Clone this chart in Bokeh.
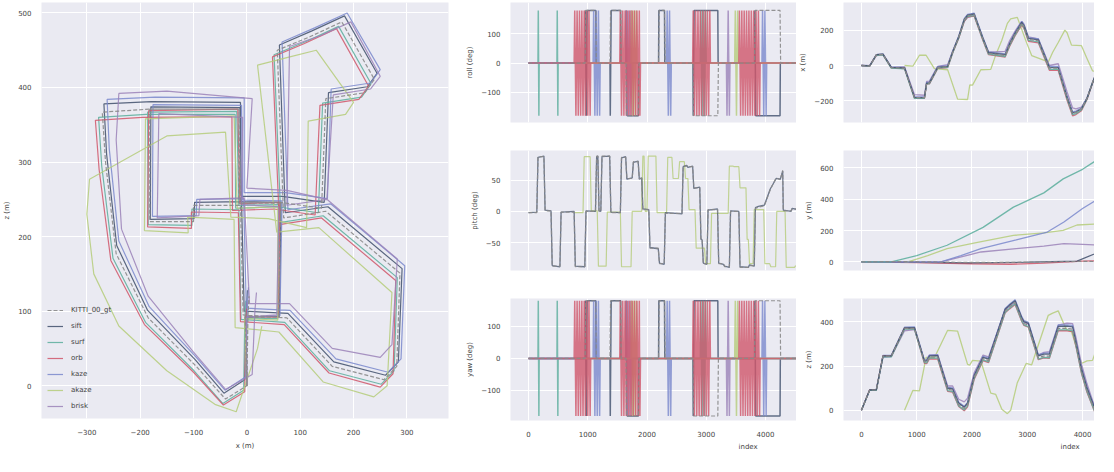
from bokeh.plotting import figure
from bokeh.layouts import row, column
from bokeh.models import FixedTicker, Range1d, Legend, LegendItem, Title
from bokeh.embed import file_html
from bokeh.resources import INLINE

# ---------------- data ----------------
names = ["KITTI_00_gt", "sift", "surf", "orb", "kaze", "akaze", "brisk"]
colors = ["#8a8a8a", "#3F4F6B", "#5BAE9C", "#D0566A", "#7A88CC", "#B5CC7A", "#9B82B8"]

gt_idx = [0, 150, 270, 390, 540, 780, 960, 1140, 1180, 1230, 1380, 1560, 1650, 1760, 1860, 1920, 2040, 2200, 2300, 2600,
          2680, 2780, 2900, 2940, 3020, 3200, 3300, 3400, 3560, 3720, 3820, 3880, 3980, 4080, 4180, 4250, 4290, 4440, 4540]
akaze_idx = [780, 930, 1050, 1170, 1320, 1560, 1740, 1920, 1960, 2010, 2160, 2340, 2430, 2540, 2640, 2700, 2820, 2980, 3080, 3380,
             3460, 3560, 3680, 3720, 3800, 3980, 4080, 4180, 4340, 4500, 4600, 4660, 4760, 4860, 4960, 5030, 5070, 5220, 5320]

gt_x = [0, -3, 60, 63, -12, -15, -182, -182, -100, -100, -12, -7, 75, 160, 257, 281, 287, 148, 69, 57,
        118, 178, 239, 221, 148, 140, 63, -15, -15, -182, -271, -265, -245, -185, -95, -40, 0, 2, 4]
gt_z = [0, 92, 92, 245, 245, 371, 371, 220, 220, 242, 242, 95, 91, 26, 8, 26, 151, 234, 225, 450,
        468, 488, 411, 393, 385, 238, 246, 245, 371, 371, 367, 300, 177, 91, 26, -18, 0, 92, 120]
sift_x = [0, -2, 61, 64, -10, -13, -180, -181, -99, -98, -10, -5, 77, 163, 260, 284, 291, 152, 72, 61,
          122, 183, 244, 226, 153, 145, 67, -11, -12, -179, -268, -263, -244, -186, -97, -43, -4, -1, 1]
sift_z = [0, 92, 93, 246, 247, 373, 374, 223, 224, 246, 247, 100, 97, 32, 14, 32, 157, 240, 232, 457,
          476, 496, 419, 401, 393, 246, 254, 254, 380, 381, 378, 311, 188, 101, 35, -10, 8, 100, 128]
surf_x = [0, -4, 58, 60, -15, -19, -186, -185, -103, -103, -15, -11, 71, 155, 252, 276, 282, 143, 64, 51,
          112, 172, 233, 215, 142, 134, 57, -21, -22, -189, -278, -272, -251, -190, -99, -45, -6, -4, -2]
surf_z = [0, 91, 90, 243, 242, 368, 367, 216, 215, 237, 236, 89, 85, 20, 2, 20, 145, 228, 219, 444,
          462, 482, 405, 387, 379, 232, 240, 238, 364, 364, 360, 294, 171, 85, 20, -24, -6, 86, 114]
orb_x = [0, -3, 59, 62, -13, -17, -184, -186, -104, -104, -16, -12, 70, 154, 250, 274, 279, 140, 61, 48,
         108, 168, 228, 210, 137, 128, 51, -27, -28, -196, -284, -277, -255, -192, -100, -44, -4, -2, 0]
orb_z = [0, 93, 92, 246, 244, 371, 369, 213, 211, 233, 232, 86, 82, 17, -2, 16, 141, 225, 216, 441,
         459, 479, 402, 384, 376, 229, 237, 235, 361, 360, 356, 290, 168, 82, 18, -26, -8, 84, 112]
kaze_x = [0, -1, 62, 66, -8, -10, -176, -177, -95, -94, -6, -1, 81, 167, 265, 289, 296, 157, 77, 66,
          127, 188, 250, 232, 158, 151, 73, -5, -5, -172, -262, -258, -240, -183, -96, -41, -2, 1, 3]
kaze_z = [0, 92, 94, 248, 249, 376, 377, 227, 228, 250, 251, 104, 101, 36, 18, 36, 161, 244, 236, 461,
          480, 500, 424, 406, 398, 251, 259, 259, 386, 387, 384, 318, 194, 106, 39, -6, 12, 104, 132]
akaze_x = [0, -4, 58, 58, -18, -24, -190, -192, -110, -111, -24, -22, 60, 143, 238, 263, 272, 135, 56, 20,
           75, 130, 200, 185, 115, 112, 40, -30, -40, -150, -295, -300, -287, -240, -150, -60, -20, 20, 28]
akaze_z = [0, 90, 88, 240, 238, 362, 358, 208, 205, 226, 223, 78, 72, 5, -15, 0, 125, 212, 206, 430,
           440, 450, 380, 364, 355, 212, 224, 226, 340, 335, 277, 230, 150, 80, 20, -25, -35, 50, 80]
brisk_x = [0, -1, 56, 60, -10, -8, -165, -168, -90, -88, -5, 5, 80, 160, 250, 272, 282, 150, 75, 80,
           140, 195, 250, 232, 162, 150, 75, 0, 10, -150, -240, -245, -235, -185, -100, -40, 10, 15, 18]
brisk_z = [0, 92, 95, 240, 243, 360, 365, 225, 228, 250, 252, 110, 110, 50, 38, 55, 170, 250, 242, 455,
           470, 488, 415, 398, 390, 250, 262, 265, 385, 395, 392, 330, 210, 120, 45, -5, 15, 100, 125]

# y (m) vs index
gt_y_idx = [0, 800, 1600, 2400, 3200, 4000, 4540]
gt_y = [0, 2, -2, -4, -1, 3, 1]
sift_y_idx = [0, 1000, 2000, 3000, 3900, 4378, 4540]
sift_y = [0, -3, -6, -2, 5, 74, 90]
surf_y_idx = [0, 540, 1000, 1550, 2200, 2750, 3300, 3650, 4000, 4378, 4540]
surf_y = [0, 0, 40, 106, 220, 349, 440, 529, 590, 677, 700]
orb_y_idx = [0, 1000, 2000, 2700, 3300, 4000, 4540]
orb_y = [0, -5, -12, -15, -8, 5, 10]
kaze_y_idx = [0, 1440, 1800, 2162, 2800, 3363, 3663, 4000, 4378, 4540]
kaze_y = [0, 0, 40, 85, 140, 190, 254, 340, 423, 450]
akaze_y_idx = [780, 840, 1200, 1550, 2100, 2750, 3300, 3650, 3900, 4378, 4540]
akaze_y = [0, 0, 40, 85, 125, 169, 185, 201, 235, 243, 248]
brisk_y_idx = [0, 1440, 2162, 2800, 3300, 3663, 4000, 4378, 4540]
brisk_y = [0, 0, 63, 85, 100, 116, 112, 106, 108]

# pitch (deg)
gt_pitch_idx = [0, 140, 160, 260, 280, 380, 400, 530, 550, 770, 790, 950, 970, 1130, 1150, 1170, 1190, 1220, 1240, 1370,
                1390, 1550, 1570, 1640, 1660, 1750, 1770, 1850, 1870, 1910, 1930, 2030, 2050, 2190, 2210, 2290, 2310, 2590, 2610, 2670,
                2690, 2770, 2790, 2890, 2910, 2930, 2950, 3010, 3030, 3190, 3210, 3290, 3310, 3390, 3410, 3550, 3570, 3710, 3730, 3810,
                3830, 3880, 3980, 4080, 4180, 4250, 4290, 4300, 4430, 4450, 4540]
gt_pitch = [-2, -2, 88, 88, 1, 1, -88, -88, -1, -1, -89, -89, 0, 0, 89, 89, 0, 0, 89, 89,
            -2, -2, 87, 87, 53, 53, 80, 80, 53, 53, 3, 3, -59, -59, -84, -84, -3, -3, 73, 73,
            72, 72, 38, 38, -45, -45, -84, -84, 3, 3, -84, -84, -89, -89, 0, 0, -90, -90, -87, -87,
            5, 7, 9, 35, 54, 51, 66, 1, 1, 4, 4]
sift_pitch = [-2, -1, 87, 89, 2, 1, -87, -89, -1, 0, -88, -89, 1, 0, 88, 89, 1, 0, 88, 89,
              -1, -2, 86, 88, 52, 54, 79, 81, 52, 54, 4, 3, -58, -60, -83, -85, -2, -4, 72, 74,
              71, 73, 37, 39, -44, -46, -83, -85, 2, 4, -83, -85, -88, -90, 1, 0, -89, -90, -86, -88,
              6, 8, 10, 36, 53, 52, 65, 2, 0, 5, 3]
akaze_pitch_idx = [780, 920, 940, 1040, 1060, 1160, 1180, 1310, 1330, 1550, 1570, 1730, 1750, 1910, 1930, 1950, 1970, 2000, 2020, 2150,
                   2170, 2330, 2350, 2420, 2440, 2530, 2550, 2630, 2650, 2690, 2710, 2810, 2830, 2970, 2990, 3070, 3090, 3370, 3390, 3450,
                   3470, 3550, 3570, 3670, 3690, 3710, 3730, 3790, 3810, 3970, 3990, 4070, 4090, 4170, 4190, 4330, 4350, 4490, 4510]
akaze_pitch = [-2, -2, 88, 88, 1, 1, -88, -88, -1, -1, -89, -89, 0, 0, 89, 89, 0, 0, 89, 89,
               -2, -2, 87, 87, 53, 53, 80, 80, 53, 53, 3, 3, -59, -59, -84, -84, -3, -3, 73, 73,
               72, 72, 38, 38, -45, -45, -84, -84, 3, 3, -84, -84, -89, -89, 0, 0, -90, -90, -87]

# roll / yaw (deg): 0 or +-180 with wrap-around flips
gt_roll_idx = [0, 955, 965, 1135, 1145, 1375, 1385, 1555, 1565, 1645, 1655, 1855, 1865, 2195, 2205, 2295, 2305,
               2775, 2785, 3195, 3205, 3815, 3825, 4245, 4255, 4540]
gt_roll = [0, 0, 180, 180, 0, 0, 180, 180, 0, 0, -180, -180, 0, 0, 180, 180, 0, 0, -180, -180, 0, 0, 180, 180, 0, 0]
sift_roll_idx = [0, 955, 960, 975, 990, 1135, 1140, 1375, 1380, 1395, 1555, 1560, 1645, 1650, 1665, 1855, 1860,
                 2195, 2200, 2295, 2300, 2775, 2780, 2795, 3195, 3200, 3815, 3820, 3835, 4245, 4250, 4540]
sift_roll = [0, 0, 180, -180, 180, 180, 0, 0, -180, 180, 180, 0, 0, 180, -180, -180, 0,
             0, 180, 180, 0, 0, -180, 180, 180, 0, 0, 180, -180, -180, 0, 0]
surf_roll_idx = [0, 160, 165, 175, 180, 480, 485, 495, 500, 2900, 2910, 2930, 2950, 2970, 2990, 3000, 4540]
surf_roll = [0, 0, 180, -180, 0, 0, 180, -180, 0, 0, 180, -180, 180, -180, 180, 0, 0]
orb_roll_idx = [0, 770,
                780, 800, 820, 840, 860, 880, 900, 920, 940, 960, 980, 1000, 1020, 1040,
                1050, 1540,
                1550, 1570, 1590, 1610, 1630, 1650, 1670, 1690, 1710, 1730, 1750, 1770, 1790, 1810, 1830, 1850, 1870, 1880,
                1890, 2770,
                2780, 2800, 2820, 2840, 2860, 2880, 2900, 2920, 2940, 2960, 2980, 3000, 3020, 3040, 3060,
                3070, 3550,
                3560, 3580, 3600, 3620, 3640, 3660, 3680, 3700, 3720, 3740, 3760, 3780, 3800, 3820, 3840, 3860, 3880, 3900,
                3910, 4540]
orb_roll = [0, 0,
            180, -180, 180, -180, 180, -180, 180, -180, 180, -180, 180, -180, 180, -180,
            0, 0,
            180, -180, 180, -180, 180, -180, 180, -180, 180, -180, 180, -180, 180, -180, 180, -180, 180, -180,
            0, 0,
            180, -180, 180, -180, 180, -180, 180, -180, 180, -180, 180, -180, 180, -180, 180,
            0, 0,
            180, -180, 180, -180, 180, -180, 180, -180, 180, -180, 180, -180, 180, -180, 180, -180, 180, -180,
            0, 0]
kaze_roll_idx = [0, 1090, 1100, 1120, 1140, 1160, 1180, 1200, 1210, 2330, 2340, 2360, 2380, 2400, 2410,
                 3940, 3950, 3970, 3990, 4010, 4020, 4540]
kaze_roll = [0, 0, 180, -180, 180, -180, 180, -180, 0, 0, 180, -180, 180, -180, 0,
             0, 180, -180, 180, -180, 0, 0]
akaze_roll_idx = [780, 1730, 1740, 1760, 1780, 1800, 1820, 1830, 3480, 3490, 3510, 3530, 3540, 4540]
akaze_roll = [0, 0, 180, -180, 180, -180, 180, 0, 0, 180, -180, 180, 0, 0]
brisk_roll_idx = [0, 1640, 1650, 1670, 1690, 1710, 1730, 1750, 1760, 3340, 3350, 3370, 3390, 3400, 4540]
brisk_roll = [0, 0, 180, -180, 180, -180, 180, -180, 0, 0, -180, 180, -180, 0, 0]

# ---------------- style ----------------
BG = "#EAEAF2"
FONT = "DejaVu Sans"
TXT = "#444444"


def mk(width, height, xr, yr, bl, br, bt, bb, xticks, yticks, xlabel, ylabel, show_x=True):
    p = figure(width=width, height=height, x_range=Range1d(*xr), y_range=Range1d(*yr),
               output_backend="svg", toolbar_location=None,
               min_border_left=bl, min_border_right=br, min_border_top=bt, min_border_bottom=bb)
    p.background_fill_color = BG
    p.border_fill_color = "white"
    p.outline_line_color = None
    p.xaxis.ticker = FixedTicker(ticks=xticks)
    p.yaxis.ticker = FixedTicker(ticks=yticks)
    for ax in p.axis:
        ax.axis_line_color = None
        ax.major_tick_line_color = None
        ax.minor_tick_line_color = None
        ax.major_label_text_font = FONT
        ax.major_label_text_font_size = "7px"
        ax.major_label_text_color = TXT
        ax.axis_label_text_font = FONT
        ax.axis_label_text_font_size = "7px"
        ax.axis_label_text_font_style = "normal"
        ax.axis_label_text_color = TXT
        ax.major_label_standoff = 4
        ax.axis_label_standoff = 4
    if xlabel:
        p.xaxis.axis_label = xlabel
    p.yaxis.axis_label = ylabel
    p.xaxis.visible = show_x
    for g in (p.xgrid, p.ygrid):
        g.grid_line_color = "white"
        g.grid_line_width = 1
    return p


def index_label(p, offset):
    t = Title(text="index", align="left", offset=offset, standoff=2,
              text_font=FONT, text_font_size="7px", text_font_style="normal", text_color=TXT)
    p.add_layout(t, "below")


# ---------------- left: trajectory x-z ----------------
left = mk(460, 452, (-385, 378), (-44, 514), 32, 12, 2, 32,
          [-300, -200, -100, 0, 100, 200, 300], [0, 100, 200, 300, 400, 500], "x (m)", "z (m)")

traj = {
    "KITTI_00_gt": (gt_x, gt_z),
    "sift": (sift_x, sift_z),
    "surf": (surf_x, surf_z),
    "orb": (orb_x, orb_z),
    "kaze": (kaze_x, kaze_z),
    "akaze": (akaze_x, akaze_z),
    "brisk": (brisk_x, brisk_z),
}
rends = {}
for nm, col in list(zip(names, colors))[1:]:
    xs, zs = traj[nm]
    rends[nm] = left.line(xs, zs, color=col, line_width=1.2, alpha=0.85)
rends["KITTI_00_gt"] = left.line(gt_x, gt_z, color=colors[0], line_width=1.2, line_dash="4 2", alpha=0.9)

legend = Legend(items=[LegendItem(label=nm, renderers=[rends[nm]]) for nm in names],
                location="bottom_left", margin=4, padding=2, spacing=4,
                label_text_font=FONT, label_text_font_size="7px", label_text_color=TXT,
                glyph_width=16, glyph_height=12, label_height=12, label_standoff=8,
                background_fill_alpha=0, border_line_alpha=0)
left.add_layout(legend)

# ---------------- middle: roll / pitch / yaw ----------------
IDX_T = [0, 1000, 2000, 3000, 4000]
MX = (-304, 4523)
roll_p = mk(336, 136, MX, (-203, 207), 50, 0, 2, 14, IDX_T, [-100, 0, 100], "", "roll (deg)", show_x=False)
pitch_p = mk(336, 148, MX, (-95, 98), 50, 0, 14, 14, IDX_T, [-50, 0, 50], "", "pitch (deg)", show_x=False)
yaw_p = mk(336, 168, MX, (-194, 187), 50, 0, 14, 32, IDX_T, [-100, 0, 100], "", "yaw (deg)")
index_label(yaw_p, 228)

rpy_series = [
    ("sift", sift_roll_idx, sift_roll),
    ("surf", surf_roll_idx, surf_roll),
    ("kaze", kaze_roll_idx, kaze_roll),
    ("brisk", brisk_roll_idx, brisk_roll),
    ("akaze", akaze_roll_idx, akaze_roll),
    ("orb", orb_roll_idx, orb_roll),
]
cmap = dict(zip(names, colors))
for p in (roll_p, yaw_p):
    for nm, ix, v in rpy_series:
        p.line(ix, v, color=cmap[nm], line_width=1.5, alpha=0.8)
    p.line(gt_roll_idx, gt_roll, color=cmap["KITTI_00_gt"], line_width=1.2, line_dash="4 2", alpha=0.9)

pitch_p.line(akaze_pitch_idx, akaze_pitch, color=cmap["akaze"], line_width=1.2, alpha=0.8)
pitch_p.line(gt_pitch_idx, sift_pitch, color=cmap["sift"], line_width=1.3, alpha=0.75)
pitch_p.line(gt_pitch_idx, gt_pitch, color=cmap["KITTI_00_gt"], line_width=1.2, line_dash="4 2", alpha=0.9)

# ---------------- right: x / y / z ----------------
RX = (-324, 4216)
x_p = mk(298, 136, RX, (-322, 356), 46, 0, 2, 14, IDX_T, [-200, 0, 200], "", "x (m)", show_x=False)
y_p = mk(298, 148, RX, (-55, 710), 46, 0, 14, 14, IDX_T, [0, 200, 400, 600], "", "y (m)", show_x=False)
z_p = mk(298, 168, RX, (-46, 506), 46, 0, 14, 32, IDX_T, [0, 200, 400], "", "z (m)")
index_label(z_p, 217)

idx_of = {"sift": gt_idx, "surf": gt_idx, "orb": gt_idx, "kaze": gt_idx, "akaze": akaze_idx, "brisk": gt_idx}
for nm in ["akaze", "brisk", "kaze", "orb", "surf", "sift"]:
    xs, zs = traj[nm]
    x_p.line(idx_of[nm], xs, color=cmap[nm], line_width=1.3, alpha=0.85)
    z_p.line(idx_of[nm], zs, color=cmap[nm], line_width=1.3, alpha=0.85)
x_p.line(gt_idx, gt_x, color=cmap["KITTI_00_gt"], line_width=1.2, line_dash="4 2")
z_p.line(gt_idx, gt_z, color=cmap["KITTI_00_gt"], line_width=1.2, line_dash="4 2")

y_series = [
    ("orb", orb_y_idx, orb_y),
    ("sift", sift_y_idx, sift_y),
    ("brisk", brisk_y_idx, brisk_y),
    ("akaze", akaze_y_idx, akaze_y),
    ("kaze", kaze_y_idx, kaze_y),
    ("surf", surf_y_idx, surf_y),
]
for nm, ix, v in y_series:
    y_p.line(ix, v, color=cmap[nm], line_width=1.3, alpha=0.85)
y_p.line(gt_y_idx, gt_y, color=cmap["KITTI_00_gt"], line_width=1.2, line_dash="4 2")

layout = row(left, column(roll_p, pitch_p, yaw_p), column(x_p, y_p, z_p))

open("out.html", "w").write(file_html(layout, INLINE))
